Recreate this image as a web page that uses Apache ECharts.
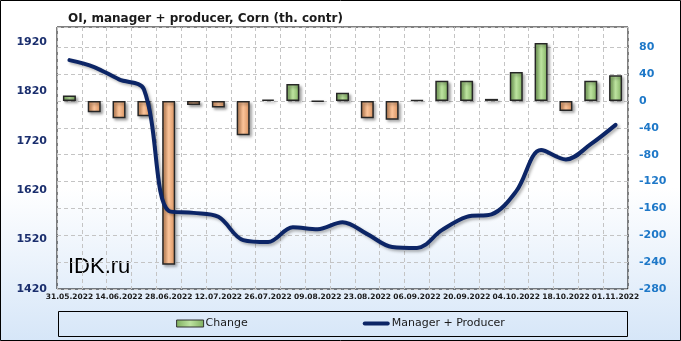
<!DOCTYPE html>
<html><head><meta charset="utf-8">
<script src="https://cdn.jsdelivr.net/npm/echarts@6/dist/echarts.min.js"></script>
<style>
html,body{margin:0;padding:0;}
#c{width:681px;height:341px;background:linear-gradient(to bottom,#ffffff 0%,#ffffff 55%,#d6e6f8 100%);}
</style>
</head><body><div id="c"></div>
<script>
const categories = ['31.05.2022','07.06.2022','14.06.2022','21.06.2022','28.06.2022','05.07.2022','12.07.2022','19.07.2022','26.07.2022','02.08.2022','09.08.2022','16.08.2022','23.08.2022','30.08.2022','06.09.2022','13.09.2022','20.09.2022','27.09.2022','04.10.2022','11.10.2022','18.10.2022','25.10.2022','01.11.2022'];
const changeValues = [8,-17,-26,-23,-244,-6,-10,-51,2,25,-1,12,-26,-28,1,30,30,3,43,86,-15,30,38];
const managerProducer = [1883,1869,1844,1824,1578,1574,1566,1519,1515,1545,1541,1555,1531,1505,1503,1539,1566,1571,1618,1701,1682,1713,1752];
const leftAxisRange = [1420,1950,100];
const rightAxisRange = [-280,110,40];

const greenFill = {type:'linear',x:0,y:0,x2:1,y2:0,colorStops:[{offset:0,color:'#7eae5e'},{offset:0.5,color:'#bde3a0'},{offset:1,color:'#7eae5e'}]};
const orangeFill = {type:'linear',x:0,y:0,x2:1,y2:0,colorStops:[{offset:0,color:'#d68f5c'},{offset:0.5,color:'#fbc49a'},{offset:1,color:'#d68f5c'}]};

const chart = echarts.init(document.getElementById('c'));
chart.setOption({
  animation:false,
  title:{text:'OI, manager + producer, Corn (th. contr)',left:63,top:8,
    textStyle:{fontFamily:'DejaVu Sans',fontWeight:'bold',fontSize:12,color:'#1a1a1a'}},
  grid:{left:57,right:53,top:27,bottom:52,show:true,borderColor:'#000',borderWidth:1},
  legend:{left:'center',top:313,itemGap:115,itemWidth:27,itemHeight:7,
    textStyle:{fontFamily:'DejaVu Sans',fontSize:11,color:'#1a1a1a',padding:[0,0,0,-3]},
    data:[{name:'Change',icon:'rect',itemStyle:{color:greenFill,borderColor:'#333',borderWidth:1}},
          {name:'Manager + Producer',icon:'path://M2,0 L25,0 A2,2 0 0 1 25,4 L2,4 A2,2 0 0 1 2,0 Z',itemStyle:{color:'#0c2566'}}]},
  xAxis:{type:'category',data:categories,boundaryGap:true,
    axisLine:{show:false},axisTick:{show:false},
    axisLabel:{interval:1,margin:4,fontFamily:'DejaVu Sans',fontWeight:'bold',fontSize:7.5,color:'#1a1a1a'},
    splitLine:{show:true,interval:0,lineStyle:{color:'#c4c4c4',type:[4,3]}}},
  yAxis:[
    {type:'value',position:'left',min:leftAxisRange[0],max:leftAxisRange[1],interval:leftAxisRange[2],
      axisLine:{show:false},axisTick:{show:false},splitLine:{show:false},
      axisLabel:{showMaxLabel:false,margin:10,formatter:v=>String(v),fontFamily:'DejaVu Sans',fontWeight:'bold',fontSize:11,color:'#1b2f6e'}},
    {type:'value',position:'right',min:rightAxisRange[0],max:rightAxisRange[1],interval:rightAxisRange[2],
      axisLine:{show:false},axisTick:{show:false},
      splitLine:{show:true,lineStyle:{color:'#c4c4c4',type:[4,3]}},
      axisLabel:{showMaxLabel:false,margin:11,formatter:v=>String(v),fontFamily:'DejaVu Sans',fontWeight:'bold',fontSize:11,color:'#1e78c8'}}
  ],
  series:[
    {name:'Change',type:'bar',yAxisIndex:1,barWidth:13,
      itemStyle:{color:greenFill,borderColor:'#262626',borderWidth:1.5,shadowColor:'rgba(0,0,0,0.35)',shadowBlur:3,shadowOffsetX:2,shadowOffsetY:2},
      data:changeValues.map(v=>({value:v,itemStyle:{color:v<0?orangeFill:greenFill}}))},
    {name:'Manager + Producer',type:'line',yAxisIndex:0,smooth:0.35,symbol:'none',
      lineStyle:{color:'#0c2566',width:4,cap:'round',shadowColor:'rgba(0,0,0,0.3)',shadowBlur:3,shadowOffsetX:2,shadowOffsetY:2},
      itemStyle:{color:'#0c2566'},
      data:managerProducer}
  ],
  graphic:[
    {type:'rect',shape:{x:0.5,y:0.5,width:680,height:340},style:{fill:'none',stroke:'#000',lineWidth:1},silent:true},
    {type:'rect',shape:{x:58.5,y:311.5,width:569,height:25},style:{fill:'none',stroke:'#000',lineWidth:1},silent:true},
    {type:'text',x:68,y:267,style:{text:'IDK.ru',font:'22px "Liberation Sans"',fill:'#000',verticalAlign:'middle'},silent:true}
  ]
});
</script>
</body></html>
